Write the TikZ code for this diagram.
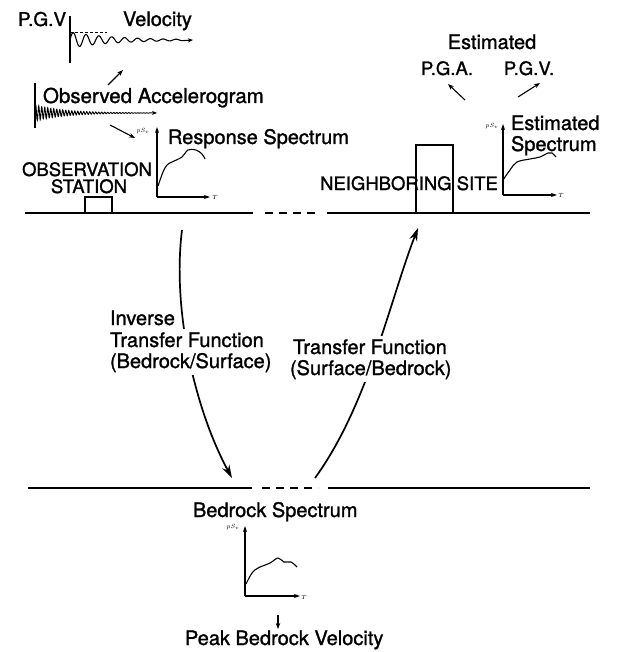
\documentclass[tikz,border=0pt]{standalone}
\usepackage{fontspec}
\setmainfont{TeX Gyre Heros}[FakeBold=1.3]
\usetikzlibrary{arrows.meta}
\begin{document}
\begin{tikzpicture}[x=1pt,y=-1pt,
 every node/.style={inner sep=0pt, outer sep=0pt},
 tw/.style={font=\fontsize{20}{22}\selectfont, anchor=base west},
 tcap/.style={font=\fontsize{18.5}{20}\selectfont, anchor=base},
 tiny/.style={font=\fontsize{6}{7}\selectfont},
 cover/.style={fill=white, inner ysep=3pt},
 axisarrow/.style={line width=1.2pt,-{Stealth[length=6pt,width=4pt]}},
 groundline/.style={line width=2pt},
 dashedground/.style={line width=2pt, dash pattern=on 8pt off 6pt},
 building/.style={line width=1.6pt},
 bigarrow/.style={line width=1.7pt,-{Stealth[length=13pt,width=8pt]}},
 smallarrow/.style={line width=1.1pt,-{Stealth[length=6pt,width=4.5pt]}},
 curve/.style={line width=1.1pt},
]
\useasboundingbox (0,0) rectangle (617,652);

% ---------- top left: velocity record ----------
\node[tw, font=\fontsize{19}{21}\selectfont] (pgv) at (18,26) {P.G.V};
\node[tw] (vel) at (123,26) {Velocity};
\draw[line width=1.2pt] (70,16) -- (70,63);
\draw[line width=0.8pt, dash pattern=on 3pt off 2pt] (70,32) -- (107,32);
\draw[line width=1.1pt,-{Stealth[length=5pt,width=4pt]}]
  plot[domain=0:112, samples=160, smooth] ({70+\x},{40-8*exp(-\x/45)*sin(\x*28)}) -- (193,40);

% ---------- observed accelerogram ----------
\node[tw, font=\fontsize{20.5}{22}\selectfont] (obs) at (43,103) {Observed Accelerogram};
\draw[line width=1.2pt] (35,83) -- (35,128);
\draw[line width=0.9pt,-{Stealth[length=5pt,width=4pt]}]
  plot[domain=0:115, samples=400] ({35+\x},{113-8*exp(-\x/30)*sin(\x*120)}) -- (157,113);
\coordinate (acc2vel) at (108,85);
\coordinate (veltip) at (123,70);
\draw[smallarrow] (acc2vel) -- (veltip);
\coordinate (acc2sp) at (110,125);
\coordinate (sptip) at (135,138);
\draw[smallarrow] (acc2sp) -- (sptip);

% ---------- response spectrum ----------
\node[tw] (resp) at (168,144) {Response Spectrum};
\coordinate (ro) at (157,197);
\draw[axisarrow] (ro) -- (157,127);
\draw[axisarrow] (ro) -- (210,197);
\node[tiny] (rpsv) at (143,131) {$pS_v$};
\node[tiny] (rt) at (215,197) {$T$};
\draw[curve] plot[smooth, tension=0.6] coordinates {(158,186) (163,172) (167,165) (172,162) (182,157) (188,150) (196,150) (202,154) (205,159)};

% ---------- observation station ----------
\node[tcap] (obsst) at (87,176) {OBSERVATION};
\node[tcap] (stat) at (89,193) {STATION};
\draw[building] (85,213) -- (85,197) -- (112,197) -- (112,213);

% ---------- ground surface ----------
\draw[groundline] (25,213) -- (253,213);
\draw[dashedground] (265,213) -- (317,213);
\draw[groundline] (327,213) -- (590,213);

% ---------- neighboring site ----------
\draw[building] (416,213) -- (416,145) -- (453,145) -- (453,213);
\node[tcap] (nb) at (409,190) {NEIGHBORING SITE};

% ---------- estimated values ----------
\node[tw, anchor=base] (est) at (492,49) {Estimated};
\node[tcap] (pga) at (447,75) {P.G.A.};
\node[tcap] (pgv2) at (529,75) {P.G.V.};
\coordinate (pgafrom) at (465,100);
\coordinate (pgato) at (448,84);
\draw[smallarrow] (pgafrom) -- (pgato);
\coordinate (pgvfrom) at (518,97);
\coordinate (pgvto) at (540,83);
\draw[smallarrow] (pgvfrom) -- (pgvto);

% ---------- estimated spectrum ----------
\node[tw] (esp1) at (511,130) {Estimated};
\node[tw] (esp2) at (511,151) {Spectrum};
\coordinate (eo) at (503,195);
\draw[axisarrow] (eo) -- (503,124);
\draw[axisarrow] (eo) -- (557,195);
\node[tiny] (epsv) at (492,126) {$pS_v$};
\node[tiny] (et) at (561,195) {$T$};
\draw[curve] plot[smooth, tension=0.6] coordinates {(503,180) (510,170) (517,162) (530,159) (540,157) (548,153) (552,153) (556,157)};

% ---------- transfer arrows ----------
\coordinate (a1) at (182,230);
\coordinate (a2) at (232,478);
\draw[bigarrow] (a1) .. controls (172,310) and (195,410) .. (a2);
\coordinate (b1) at (315,478);
\coordinate (b2) at (418,228);
\draw[bigarrow] (b1) .. controls (368,405) and (390,300) .. (b2);

\node[tw] (inv1) at (110,325) {Inverse};
\node[tw, cover] (inv2) at (110,347) {Transfer Function};
\node[tw, cover] (inv3) at (110,368) {(Bedrock/Surface)};
\node[tw, cover] (tf1) at (293,354) {Transfer Function};
\node[tw, cover] (tf2) at (290,375) {(Surface/Bedrock)};

% ---------- bedrock ----------
\draw[groundline] (28,488) -- (252,488);
\draw[dashedground] (262,488) -- (318,488);
\draw[groundline] (328,488) -- (590,488);

\node[tw] (brs) at (193,517) {Bedrock Spectrum};
\coordinate (bo) at (245,596);
\draw[axisarrow] (bo) -- (245,526);
\draw[axisarrow] (bo) -- (300,596);
\node[tiny] (bpsv) at (233,527) {$pS_v$};
\node[tiny] (bt) at (304,597) {$T$};
\draw[curve] plot[smooth, tension=0.6] coordinates {(246,584) (252,573) (258,568) (270,563) (278,558) (284,562) (291,562) (297,567)};

\coordinate (pk1) at (278,615);
\coordinate (pk2) at (278,629);
\draw[smallarrow] (pk1) -- (pk2);
\node[tw] (pbv) at (185,645) {Peak Bedrock Velocity};
\end{tikzpicture}
\end{document}
